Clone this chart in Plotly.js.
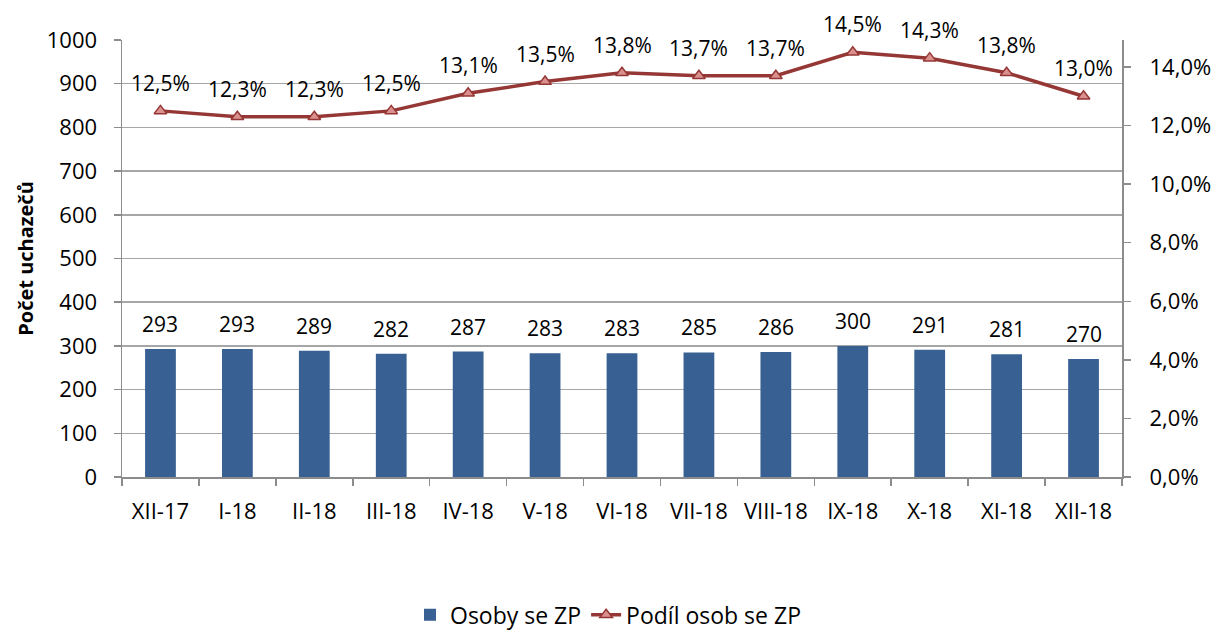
<!DOCTYPE html>
<html>
<head>
<meta charset="utf-8">
<script src="https://cdn.plot.ly/plotly-3.0.1.min.js"></script>
<style>html,body{margin:0;padding:0;background:#fff}#chart{width:1216px;height:630px}</style>
</head>
<body>
<div id="chart"></div>
<script>
const categories = ["XII-17","I-18","II-18","III-18","IV-18","V-18","VI-18","VII-18","VIII-18","IX-18","X-18","XI-18","XII-18"];
const osobySeZP = [293,293,289,282,287,283,283,285,286,300,291,281,270];
const podilOsobSeZP = [0.125,0.123,0.123,0.125,0.131,0.135,0.138,0.137,0.137,0.145,0.143,0.138,0.130];
const leftTicks = [0,100,200,300,400,500,600,700,800,900,1000];
const rightTicks = [0,0.02,0.04,0.06,0.08,0.10,0.12,0.14];

const FONT = "Open Sans, Noto Sans, sans-serif";

const bars = {
  type: "bar", name: "Osoby se ZP", x: categories, y: osobySeZP,
  marker: {color: "#386093"}, width: 0.4, cliponaxis: false, hoverinfo: "skip"
};
const line = {
  type: "scatter", mode: "lines+markers", name: "Podíl osob se ZP",
  x: categories, y: podilOsobSeZP, yaxis: "y2",
  line: {color: "#953735", width: 3.5},
  marker: {symbol: "triangle-up", size: 11, color: "#D9908E", line: {color: "#953735", width: 1.5}},
  cliponaxis: false, hoverinfo: "skip"
};

const fmtPct = v => (v*100).toFixed(1).replace(".", ",") + "%";
const annotations = [];
categories.forEach((c, i) => {
  annotations.push({x: c, y: osobySeZP[i], xref: "x", yref: "y", text: String(osobySeZP[i]),
    showarrow: false, yshift: 25, font: {family: FONT, size: 21, color: "#000"}});
  annotations.push({x: c, y: podilOsobSeZP[i], xref: "x", yref: "y2", text: fmtPct(podilOsobSeZP[i]),
    showarrow: false, yshift: 28, font: {family: FONT, size: 21, color: "#000"}});
});

const layout = {
  width: 1216, height: 630,
  margin: {l: 122, r: 94, t: 40, b: 153},
  paper_bgcolor: "#fff", plot_bgcolor: "#fff",
  separators: ", ",
  font: {family: FONT, size: 21, color: "#000"},
  showlegend: true,
  legend: {orientation: "h", x: 0.5, xref: "container", xanchor: "center",
    y: 0.024, yref: "container", yanchor: "middle",
    font: {family: FONT, size: 23, color: "#000"}, traceorder: "normal"},
  xaxis: {
    type: "category", range: [-0.5, 12.5], automargin: false, showgrid: false, showline: true,
    linecolor: "#8c8c8c", linewidth: 1.5,
    ticks: "outside", tickson: "boundaries", ticklen: 7, tickcolor: "#8c8c8c", tickwidth: 1.5,
    ticklabelstandoff: 14, tickfont: {family: FONT, size: 22}, fixedrange: true
  },
  yaxis: {
    automargin: false, range: [0, 1000], tickvals: leftTicks, showgrid: true, gridcolor: "#a6a6a6", gridwidth: 1.5,
    showline: true, linecolor: "#8c8c8c", linewidth: 1.5, zeroline: false,
    ticks: "outside", ticklen: 7, tickcolor: "#8c8c8c", tickwidth: 1.5,
    ticklabelstandoff: 12, tickfont: {family: FONT, size: 22},
    title: {text: "<b>Počet uchazečů</b>", font: {family: FONT, size: 20}, standoff: 8}
  },
  yaxis2: {
    automargin: false, overlaying: "y", side: "right", range: [0, 0.1492],
    tickvals: rightTicks, ticktext: rightTicks.map(v => "\u2002\u2009" + fmtPct(v)),
    showgrid: false, showline: true, linecolor: "#8c8c8c", linewidth: 1.5, zeroline: false,
    ticks: "outside", ticklen: 7, tickcolor: "#8c8c8c", tickwidth: 1.5,
    tickfont: {family: FONT, size: 22}
  },
  annotations: annotations
};

Plotly.newPlot("chart", [bars, line], layout, {displayModeBar: false, staticPlot: true});
</script>
</body>
</html>
